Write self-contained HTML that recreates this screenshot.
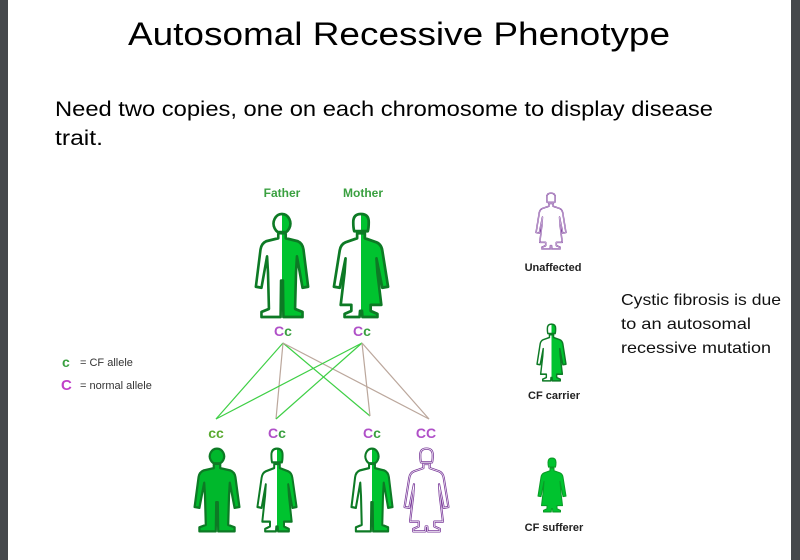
<!DOCTYPE html>
<html><head><meta charset="utf-8"><style>
html,body{margin:0;padding:0;background:#fff;}
svg{display:block;}
</style></head><body>
<svg width="800" height="560" viewBox="0 0 800 560" xmlns="http://www.w3.org/2000/svg">
<defs>
<clipPath id="rh"><rect x="30" y="0" width="40" height="110"/></clipPath>
<path id="mp" d="M26,20 L34,20 L34,26 L47,29 Q52,31 53,37 L58,74 L52,75 L46,44 L45,60 L44,96 L52,99 L52,104 L31.5,104 L31,68 L29,68 L28.5,104 L8,104 L8,99 L16,96 L15,60 L14,44 L8,75 L2,74 L7,37 Q8,31 13,29 L26,26 Z M30,2 A9,9.5 0 1 1 29.9,2 Z"/>
<path id="fp" d="M26,21 L34,21 L34,26 L46,30 Q51,32 52,38 L58,74 L52,75 L46,46 L47,60 L51,92 L40,92 L40,98 L47,101 L47,104 L31.5,104 L31,98 L29,98 L28.5,104 L13,104 L13,101 L20,98 L20,92 L9,92 L13,60 L14,46 L8,75 L2,74 L8,38 Q9,32 14,30 L26,26 Z M30,2 Q38,2 38,10 Q38,16 37,19 L23,19 Q22,16 22,10 Q22,2 30,2 Z"/>
<symbol id="maleHalf" viewBox="0 0 60 106" preserveAspectRatio="none">
<use href="#mp" fill="#fff"/><use href="#mp" fill="#00c32f" clip-path="url(#rh)"/>
<use href="#mp" fill="none" stroke="#0d7a25" stroke-width="2.8" stroke-linejoin="round"/>
</symbol>
<symbol id="femaleHalf" viewBox="0 0 60 106" preserveAspectRatio="none">
<use href="#fp" fill="#fff"/><use href="#fp" fill="#00c32f" clip-path="url(#rh)"/>
<use href="#fp" fill="none" stroke="#0d7a25" stroke-width="2.8" stroke-linejoin="round"/>
</symbol>
<symbol id="maleFull" viewBox="0 0 60 106" preserveAspectRatio="none">
<use href="#mp" fill="#00b82c" stroke="#0d7a25" stroke-width="2.8" stroke-linejoin="round"/>
</symbol>
<symbol id="femaleFull" viewBox="0 0 60 106" preserveAspectRatio="none">
<use href="#fp" fill="#00c32f" stroke="#0a9a26" stroke-width="2" stroke-linejoin="round"/>
</symbol>
<symbol id="femaleUn" viewBox="0 0 60 106" preserveAspectRatio="none">
<use href="#fp" fill="#fff" stroke="#7a3a9a" stroke-width="2.8" stroke-linejoin="round"/>
<use href="#fp" fill="none" stroke="#fff" stroke-width="0.8"/>
</symbol>
</defs>
<rect x="0" y="0" width="8" height="560" fill="#45484b"/>
<rect x="791" y="0" width="9" height="560" fill="#45484b"/>
<g font-family="'Liberation Sans',sans-serif">
<text x="399" y="45" font-size="32" text-anchor="middle" textLength="542" lengthAdjust="spacingAndGlyphs" fill="#000">Autosomal Recessive Phenotype</text>
<text x="55" y="116" font-size="21" textLength="658" lengthAdjust="spacingAndGlyphs" fill="#000">Need two copies, one on each chromosome to display disease</text>
<text x="55" y="145" font-size="21" textLength="48" lengthAdjust="spacingAndGlyphs" fill="#000">trait.</text>
<g font-size="16" fill="#111">
<text x="621" y="305" textLength="160" lengthAdjust="spacingAndGlyphs">Cystic fibrosis is due</text>
<text x="621" y="329" textLength="130" lengthAdjust="spacingAndGlyphs">to an autosomal</text>
<text x="621" y="353" textLength="150" lengthAdjust="spacingAndGlyphs">recessive mutation</text>
</g>
<g font-size="12" font-weight="bold" fill="#3aa040" text-anchor="middle">
<text x="282" y="197">Father</text><text x="363" y="197">Mother</text>
</g>
<g font-size="14" font-weight="bold" text-anchor="middle">
<text x="283" y="336" fill="#b050c8">C<tspan fill="#3aa040">c</tspan></text>
<text x="362" y="336" fill="#b050c8">C<tspan fill="#3aa040">c</tspan></text>
<text x="216" y="438" fill="#5aaa30">cc</text>
<text x="277" y="438" fill="#b050c8">C<tspan fill="#3aa040">c</tspan></text>
<text x="372" y="438" fill="#b050c8">C<tspan fill="#3aa040">c</tspan></text>
<text x="426" y="438" fill="#b050c8">CC</text>
</g>
<text x="62" y="367" font-size="14" font-weight="bold" fill="#3aa040">c</text>
<text x="80" y="366" font-size="11" fill="#333">= CF allele</text>
<text x="61" y="390" font-size="15" font-weight="bold" fill="#c040c8">C</text>
<text x="80" y="389" font-size="11" fill="#333">= normal allele</text>
<g font-size="11" font-weight="bold" fill="#222" text-anchor="middle">
<text x="553" y="271">Unaffected</text>
<text x="554" y="399">CF carrier</text>
<text x="554" y="531">CF sufferer</text>
</g>
</g>
<g stroke-width="1.2" fill="none">
<line x1="283" y1="343" x2="216" y2="419" stroke="#3ecf45"/>
<line x1="283" y1="343" x2="276" y2="419" stroke="#bba79c"/>
<line x1="283" y1="343" x2="370" y2="416" stroke="#3ecf45"/>
<line x1="283" y1="343" x2="429" y2="419" stroke="#bba79c"/>
<line x1="362" y1="343" x2="216" y2="419" stroke="#3ecf45"/>
<line x1="362" y1="343" x2="276" y2="419" stroke="#3ecf45"/>
<line x1="362" y1="343" x2="370" y2="416" stroke="#bba79c"/>
<line x1="362" y1="343" x2="429" y2="419" stroke="#bba79c"/>
</g>
<use href="#maleHalf" x="254" y="212" width="56" height="107"/>
<use href="#femaleHalf" x="332" y="212" width="58" height="107"/>
<use href="#maleFull" x="193" y="447" width="48" height="86"/>
<use href="#femaleHalf" x="256" y="447" width="42" height="86"/>
<use href="#maleHalf" x="350" y="447" width="44" height="86"/>
<use href="#femaleUn" x="403" y="447" width="47" height="86"/>
<use href="#femaleUn" x="535" y="192" width="32" height="58"/>
<use href="#femaleHalf" x="536" y="323" width="31" height="59"/>
<use href="#femaleFull" x="537" y="457" width="30" height="56"/>
</svg>
</body></html>
